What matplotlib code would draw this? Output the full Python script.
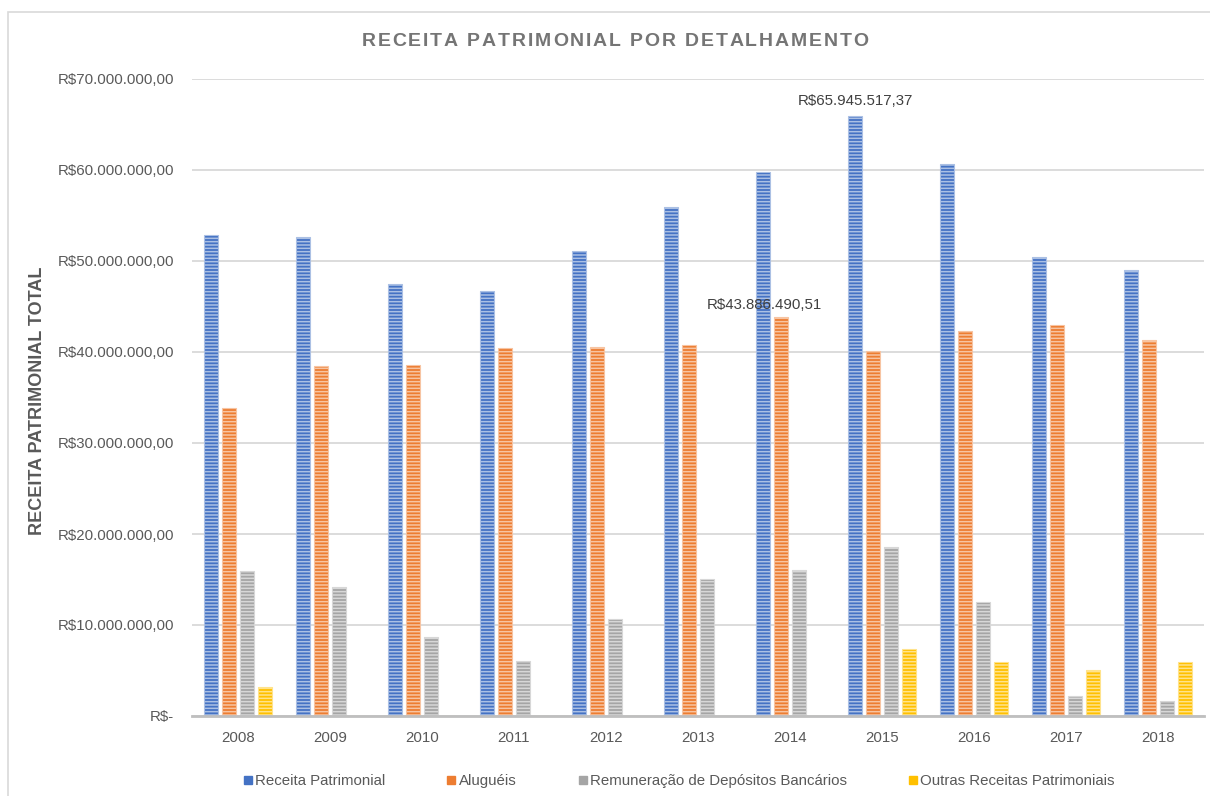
import numpy as np
import matplotlib
matplotlib.use("Agg")
import matplotlib.pyplot as plt
from matplotlib.lines import Line2D
from matplotlib.patches import Rectangle
from matplotlib.font_manager import FontProperties

# ---------------- data ----------------
years = ["2008", "2009", "2010", "2011", "2012", "2013", "2014", "2015", "2016", "2017", "2018"]
receita_patrimonial = [52.9e6, 52.6e6, 47.5e6, 46.7e6, 51.1e6, 55.9e6, 59.8e6, 65945517.37, 60.7e6, 50.4e6, 49.0e6]
alugueis = [33.8e6, 38.5e6, 38.6e6, 40.4e6, 40.5e6, 40.8e6, 43886490.51, 40.1e6, 42.3e6, 43.0e6, 41.3e6]
remuneracao_depositos = [15.9e6, 14.2e6, 8.7e6, 6.0e6, 10.7e6, 15.1e6, 16.0e6, 18.6e6, 12.5e6, 2.2e6, 1.7e6]
outras_receitas = [3.2e6, 0, 0, 0, 0, 0, 0, 7.4e6, 5.9e6, 5.1e6, 5.9e6]
series_names = ["Receita Patrimonial", "Aluguéis", "Remuneração de Depósitos Bancários",
                "Outras Receitas Patrimoniais"]
y_ticks = [0, 10e6, 20e6, 30e6, 40e6, 50e6, 60e6, 70e6]
title = "RECEITA PATRIMONIAL POR DETALHAMENTO"
y_title = "RECEITA PATRIMONIAL TOTAL"

# ---------------- style ----------------
FONT = "Liberation Sans"
plt.rcParams["font.family"] = [FONT, "DejaVu Sans"]
plt.rcParams["hatch.linewidth"] = 1.1
colors = ["#4472C4", "#ED7D31", "#A5A5A5", "#FFC000"]
FS = 10.8


def lighten(c, f=0.55):
    r, g, b = matplotlib.colors.to_rgb(c)
    return (r + (1 - r) * f, g + (1 - g) * f, b + (1 - b) * f)


def brl(v):
    if v == 0:
        return "R$-"
    s = f"{v:,.2f}"
    s = s.replace(",", "X").replace(".", ",").replace("X", ".")
    return "R$" + s


W, H = 1210, 796
fig = plt.figure(figsize=(W / 100, H / 100), dpi=100)
ax = fig.add_axes([192 / W, 1 - 716 / H, (1204 - 192) / W, (716 - 79) / H])

# chart border
fig.patches.append(Rectangle((8 / W, -0.1), 1.2, 1 - 12 / H + 0.1, transform=fig.transFigure,
                             fill=False, edgecolor="#d9d9d9", linewidth=1.2, zorder=0))

x = np.arange(len(years))
slot = 0.1957
bw = 0.159
data = [receita_patrimonial, alugueis, remuneracao_depositos, outras_receitas]
for i, (vals, col) in enumerate(zip(data, colors)):
    ax.bar(x + (i - 1.5) * slot, vals, width=bw, color=col, edgecolor=lighten(col),
           linewidth=0.8, hatch="-----", zorder=3)

ax.set_xlim(-0.5, len(years) - 0.5)
ax.set_ylim(0, 70e6)
ax.set_yticks(y_ticks)
ax.set_yticklabels([brl(v) for v in y_ticks])
ax.set_xticks(x)
ax.set_xticklabels(years)
ax.tick_params(axis="y", length=0, pad=13, labelsize=FS, labelcolor="#595959")
ax.tick_params(axis="x", length=0, pad=11, labelsize=FS, labelcolor="#595959")
ax.grid(axis="y", color="#d9d9d9", linewidth=1.3, zorder=0)
ax.set_axisbelow(True)
for s in ["top", "right", "left"]:
    ax.spines[s].set_visible(False)
ax.spines["bottom"].set_color("#bfbfbf")
ax.spines["bottom"].set_linewidth(2)
ax.spines["bottom"].set_zorder(4)

# data labels
i15 = years.index("2015")
ax.annotate(brl(receita_patrimonial[i15]), xy=(x[i15] - 1.5 * slot, receita_patrimonial[i15]),
            xytext=(0, 6), textcoords="offset points", ha="center", va="bottom",
            fontsize=FS, color="#404040")
i14 = years.index("2014")
ax.annotate(brl(alugueis[i14]), xy=(x[i14] - 0.5 * slot, alugueis[i14]),
            xytext=(-12, 3), textcoords="offset points", ha="center", va="bottom",
            fontsize=FS, color="#404040")

# y-axis title
fig.text(38 / W, 1 - 401 / H, y_title, rotation=90, ha="center", va="center",
         fontsize=13, fontweight="bold", color="#595959")

# title with letter spacing
renderer = fig.canvas.get_renderer()
fp = FontProperties(family=FONT, weight="bold", size=14)
track = 1.85
widths = [renderer.get_text_width_height_descent(ch, fp, ismath=False)[0] if ch != " "
          else renderer.get_text_width_height_descent("a a", fp, ismath=False)[0]
          - renderer.get_text_width_height_descent("aa", fp, ismath=False)[0]
          for ch in title]
total = sum(widths) + track * (len(title) - 1)
cx = 615.0
xpos = cx - total / 2
for ch, w in zip(title, widths):
    if ch != " ":
        fig.text(xpos / W, 1 - 42 / H, ch, ha="left", va="center", fontproperties=fp,
                 color="#757575")
    xpos += w + track

# legend
handles = [Line2D([0], [0], marker="s", linestyle="none", markersize=6,
                  markerfacecolor=c, markeredgecolor=c) for c in colors]
fig.legend(handles, series_names, loc="center", bbox_to_anchor=(679 / W, 1 - 781 / H),
           ncol=4, frameon=False, fontsize=FS, labelcolor="#595959",
           handlelength=0.6, handletextpad=0.2, columnspacing=4.1, borderpad=0)

fig.savefig("out.png", dpi=100)
